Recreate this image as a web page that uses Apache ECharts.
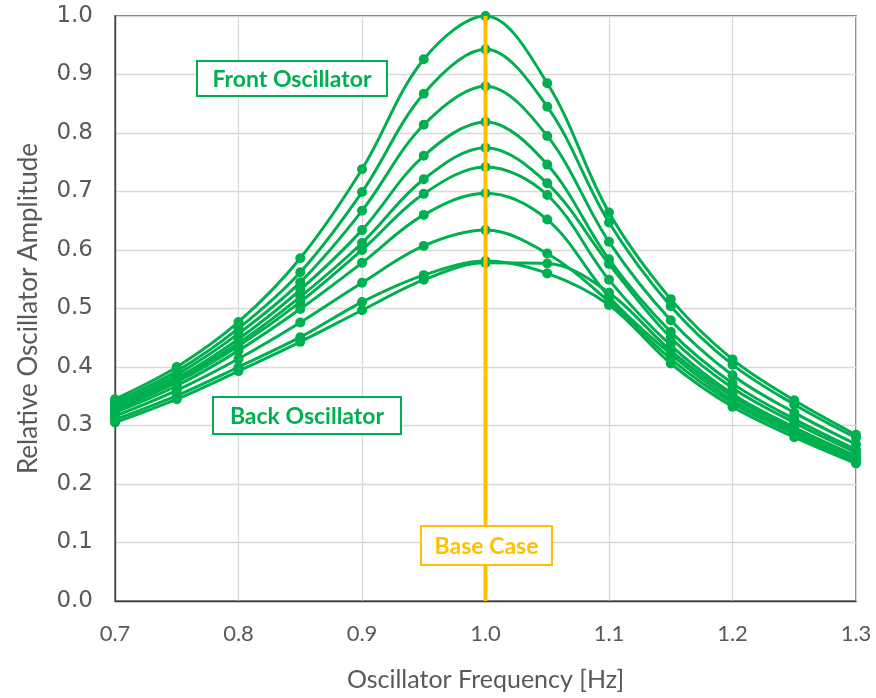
<!DOCTYPE html>
<html>
<head>
<meta charset="utf-8">
<script src="https://cdn.jsdelivr.net/npm/echarts@6/dist/echarts.min.js"></script>
<style>
  html, body { margin: 0; padding: 0; background: #fff; }
  #chart { width: 876px; height: 698px; }
</style>
</head>
<body>
<div id="chart"></div>
<script>
// oscillator frequency [Hz]
var freq = [0.7, 0.75, 0.8, 0.85, 0.9, 0.95, 1.0, 1.05, 1.1, 1.15, 1.2, 1.25, 1.3]
var xTicks = ['0.7', '0.8', '0.9', '1.0', '1.1', '1.2', '1.3']

// relative amplitude, front oscillator (top) to back oscillator
var amp1 = [0.345, 0.400, 0.477, 0.586, 0.738, 0.926, 1.000, 0.885, 0.664, 0.516, 0.413, 0.343, 0.284]
var amp2 = [0.340, 0.393, 0.466, 0.562, 0.699, 0.867, 0.943, 0.845, 0.647, 0.504, 0.404, 0.336, 0.279]
var amp3 = [0.335, 0.387, 0.457, 0.545, 0.667, 0.814, 0.880, 0.795, 0.614, 0.480, 0.386, 0.322, 0.268]
var amp4 = [0.331, 0.381, 0.448, 0.532, 0.634, 0.761, 0.819, 0.746, 0.584, 0.460, 0.372, 0.311, 0.259]
var amp5 = [0.328, 0.377, 0.441, 0.520, 0.612, 0.721, 0.775, 0.714, 0.576, 0.450, 0.364, 0.305, 0.254]
var amp6 = [0.326, 0.374, 0.436, 0.511, 0.600, 0.696, 0.742, 0.694, 0.549, 0.437, 0.354, 0.297, 0.248]
var amp7 = [0.322, 0.368, 0.428, 0.499, 0.578, 0.660, 0.697, 0.652, 0.520, 0.422, 0.343, 0.289, 0.242]
var amp8 = [0.316, 0.360, 0.414, 0.476, 0.544, 0.607, 0.634, 0.594, 0.512, 0.414, 0.338, 0.285, 0.238]
var amp9 = [0.310, 0.351, 0.400, 0.451, 0.511, 0.557, 0.581, 0.560, 0.506, 0.406, 0.332, 0.280, 0.235]
var amp10 = [0.305, 0.345, 0.393, 0.443, 0.497, 0.549, 0.578, 0.577, 0.527, 0.428, 0.349, 0.293, 0.245]

var baseCase = 1.0

var green = '#00B050'
var orange = '#FFC000'

var allAmps = [amp1, amp2, amp3, amp4, amp5, amp6, amp7, amp8, amp9, amp10]

var series = []
allAmps.forEach(function (amp, i) {
  series.push({
    type: 'line',
    name: 'osc' + (i + 1),
    data: freq.map(function (f, j) { return [f, amp[j]] }),
    smooth: 0.35,
    symbol: 'circle',
    symbolSize: 10,
    showAllSymbol: true,
    itemStyle: { color: green },
    lineStyle: { color: green, width: 3 },
    z: 3,
    animation: false
  })
})
// base case marker line
series.push({
  type: 'line',
  name: 'base',
  data: [[baseCase, 0], [baseCase, 1]],
  symbol: 'none',
  lineStyle: { color: orange, width: 4 },
  z: 5,
  animation: false
})

function labelBox(x, y, w, h, text, color) {
  return {
    type: 'group', left: x, top: y, z: 100,
    children: [
      { type: 'rect', z: 100, shape: { x: 0, y: 0, width: w, height: h },
        style: { fill: '#fff', stroke: color, lineWidth: 2 } },
      { type: 'text', z: 101, x: w / 2, y: h / 2 + 1,
        style: { text: text, fill: color, fontFamily: 'Lato', fontWeight: 'bold', fontSize: 23,
                 align: 'center', verticalAlign: 'middle' } }
    ]
  }
}

var chart = echarts.init(document.getElementById('chart'))
chart.setOption({
  animation: false,
  grid: {
    left: 115, right: 20, top: 16, bottom: 97,
    show: true, borderColor: '#404040', borderWidth: 1.3
  },
  xAxis: {
    type: 'value',
    min: 0.7, max: 1.3, interval: 0.1,
    name: 'Oscillator Frequency [Hz]',
    nameLocation: 'middle',
    nameGap: 66,
    nameTextStyle: { fontFamily: 'Lato', fontSize: 25, color: '#595959' },
    axisLine: { show: true, lineStyle: { color: '#404040', width: 1.3 } },
    axisTick: { show: false },
    axisLabel: {
      fontFamily: 'Lato', fontSize: 22, color: '#595959', margin: 22,
      formatter: function (v) {
        var s = v.toFixed(1)
        return xTicks.indexOf(s) >= 0 ? s : ''
      }
    },
    splitLine: { show: true, lineStyle: { color: '#d9d9d9', width: 1.3 } }
  },
  yAxis: {
    type: 'value',
    min: 0, max: 1, interval: 0.1,
    name: 'Relative Oscillator Amplitude',
    nameLocation: 'middle',
    nameGap: 73,
    nameTextStyle: { fontFamily: 'Lato', fontSize: 26, color: '#595959' },
    axisLine: { show: true, lineStyle: { color: '#404040', width: 1.3 } },
    axisTick: { show: false },
    axisLabel: {
      fontFamily: 'DejaVu Sans', fontSize: 23, color: '#595959', margin: 22,
      formatter: function (v) { return v.toFixed(1) }
    },
    splitLine: { show: true, lineStyle: { color: '#d9d9d9', width: 1.3 } }
  },
  graphic: [
    labelBox(196, 60, 190, 35, 'Front Oscillator', green),
    labelBox(212, 396, 188, 37, 'Back Oscillator', green),
    labelBox(420, 525, 131, 39, 'Base Case', orange)
  ],
  series: series
})
</script>
</body>
</html>
